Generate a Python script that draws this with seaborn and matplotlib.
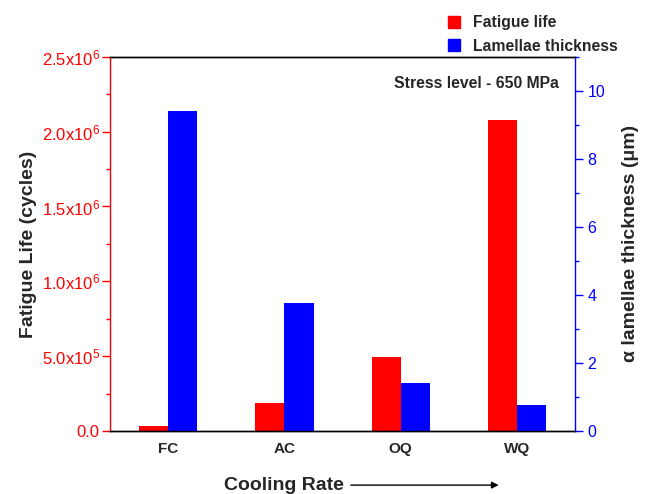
import matplotlib
matplotlib.use("Agg")
import matplotlib.pyplot as plt
import seaborn as sns
import pandas as pd
from matplotlib.ticker import FuncFormatter, MultipleLocator
from matplotlib.lines import Line2D

categories = ["FC", "AC", "OQ", "WQ"]
fatigue_life = [3.3e4, 1.87e5, 4.95e5, 2.08e6]
lamellae_thickness = [9.4, 3.76, 1.42, 0.77]
series = ["Fatigue life", "Lamellae thickness"]
colors = {"Fatigue life": "#ff0000", "Lamellae thickness": "#0000ff"}

sns.set_style("white")
plt.rcParams["font.family"] = ["Liberation Sans", "DejaVu Sans"]
plt.rcParams["mathtext.fontset"] = "custom"
plt.rcParams["mathtext.rm"] = "Liberation Sans"
plt.rcParams["mathtext.it"] = "Liberation Sans"

df1 = pd.DataFrame({"cat": categories, "val": fatigue_life, "series": series[0]})
df2 = pd.DataFrame({"cat": categories, "val": lamellae_thickness, "series": series[1]})

fig = plt.figure(figsize=(6.47, 4.94), dpi=100)
ax = fig.add_axes([0.170, 0.1275, 0.719, 0.7575])
ax2 = ax.twinx()

sns.barplot(data=df1, x="cat", y="val", hue="series", hue_order=series, order=categories,
            palette=colors, width=0.5, dodge=True, ax=ax, legend=False, saturation=1, linewidth=0)
sns.barplot(data=df2, x="cat", y="val", hue="series", hue_order=series, order=categories,
            palette=colors, width=0.5, dodge=True, ax=ax2, legend=False, saturation=1, linewidth=0)

ax.set_xlim(-0.5, 3.5)
ax.set_ylim(0, 2.5e6)
ax2.set_ylim(0, 11)

def sci(v, pos):
    if v == 0:
        return "0.0"
    exp = int(f"{v:e}".split("e")[1])
    mant = v / 10**exp
    return r"$%.1f\mathregular{x}10^{%d}$" % (mant, exp)

ax.yaxis.set_major_locator(MultipleLocator(5e5))
ax.yaxis.set_minor_locator(MultipleLocator(2.5e5))
ax.yaxis.set_major_formatter(FuncFormatter(sci))
ax2.yaxis.set_major_locator(MultipleLocator(2))
ax2.yaxis.set_minor_locator(MultipleLocator(1))

red = "#ff0000"
blue = "#0000ff"
for a in (ax, ax2):
    for s in a.spines.values():
        s.set_linewidth(1.0)
        s.set_color("black")
ax.spines["left"].set_color(red)
ax2.spines["left"].set_visible(False)
ax2.spines["right"].set_color(blue)
ax.spines["right"].set_visible(False)

ax.tick_params(axis="y", which="major", colors=red, length=5.5, width=1, direction="out", labelsize=12, left=True, pad=2)
ax.tick_params(axis="y", which="minor", colors=red, length=3, width=1, direction="out", left=True)
ax2.tick_params(axis="y", which="major", colors=blue, length=5.5, width=1, direction="out", labelsize=11.5, right=True)
ax2.tick_params(axis="y", which="minor", colors=blue, length=3, width=1, direction="out", right=True)
ax.tick_params(axis="x", length=0, labelsize=11, pad=8)
for lbl in ax.get_xticklabels():
    lbl.set_fontweight("bold")

ax.set_xlabel("")
ax.set_ylabel("Fatigue Life (cycles)", fontsize=14, fontweight="bold", labelpad=3)
ax2.set_ylabel("α lamellae thickness (μm)", fontsize=14, fontweight="bold", labelpad=12)

fig.text(0.346, 0.008, "Cooling Rate", fontsize=14, fontweight="bold", ha="left", va="baseline")
ax.annotate("", xy=(0.775, 0.018), xytext=(0.538, 0.018), xycoords="figure fraction",
            arrowprops=dict(arrowstyle="-|>", color="black", lw=1, mutation_scale=10))

ax.text(0.965, 0.93, "Stress level - 650 MPa", transform=ax.transAxes, ha="right", va="center",
        fontsize=11.3, fontweight="bold")

handles = [Line2D([0], [0], marker="s", linestyle="none", markersize=9,
                  markerfacecolor=colors[s], markeredgecolor=colors[s]) for s in series]
leg = fig.legend(handles, series, loc="upper left", bbox_to_anchor=(0.67, 0.995), frameon=False,
                 prop={"weight": "bold", "size": 11.3}, handletextpad=0.7, labelspacing=0.55,
                 borderaxespad=0.4, handlelength=1.0)

fig.savefig("out.png", dpi=100)
